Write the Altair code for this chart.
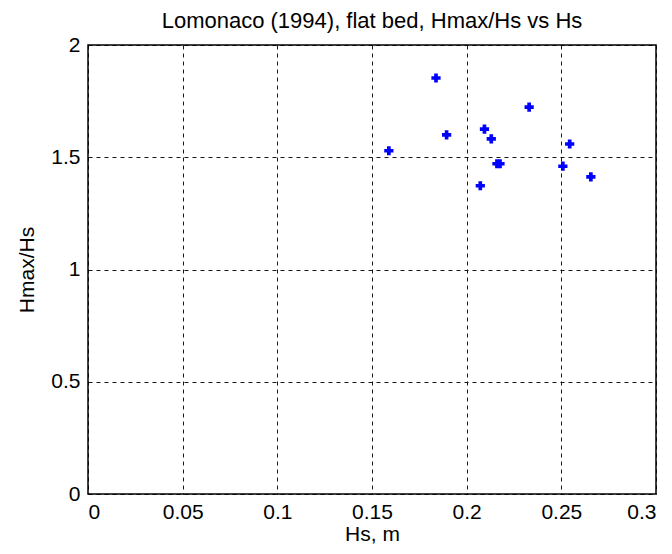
import altair as alt
import pandas as pd

hs = [0.1589, 0.1838, 0.1894, 0.2094, 0.2130, 0.2160, 0.2176, 0.2072, 0.2330, 0.2544, 0.2508, 0.2656]
ratio = [1.529, 1.853, 1.600, 1.625, 1.582, 1.471, 1.471, 1.373, 1.723, 1.559, 1.460, 1.413]

df = pd.DataFrame({"Hs": hs, "ratio": ratio})

font = "Liberation Sans"

chart = alt.Chart(df).mark_point(
    shape="cross", filled=True, color="#0000FF", size=85, opacity=1
).encode(
    x=alt.X("Hs:Q", scale=alt.Scale(domain=[0, 0.3], nice=False),
            axis=alt.Axis(values=[0, 0.05, 0.1, 0.15, 0.2, 0.25, 0.3], title="Hs, m",
                          labelExpr="datum.value == 0 ? '0' : format(datum.value, '~g')")),
    y=alt.Y("ratio:Q", scale=alt.Scale(domain=[0, 2], nice=False),
            axis=alt.Axis(values=[0, 0.5, 1, 1.5, 2], title="Hmax/Hs",
                          labelExpr="format(datum.value, '~g')")),
).properties(
    width=568, height=449,
    title=alt.TitleParams("Lomonaco (1994), flat bed, Hmax/Hs vs Hs", fontSize=22,
                          font=font, fontWeight="normal", color="black", offset=1),
    autosize=alt.AutoSizeParams(type="none"),
    padding={"left": 80, "top": 37, "right": 8, "bottom": 52},
).configure_view(
    stroke="black", strokeWidth=1.5
).configure_axis(
    grid=True, gridColor="black", gridDash=[4, 4], gridOpacity=0.9, gridWidth=1,
    domain=False, ticks=False,
    labelFont=font, labelFontSize=21, labelColor="black",
    titleFont=font, titleFontSize=21, titleFontWeight="normal", titleColor="black",
).configure_axisX(
    labelPadding=7, titlePadding=1
).configure_axisY(
    labelPadding=8, titlePadding=13
)

chart.save("out.html", embed_options={"renderer": "svg", "actions": False})
